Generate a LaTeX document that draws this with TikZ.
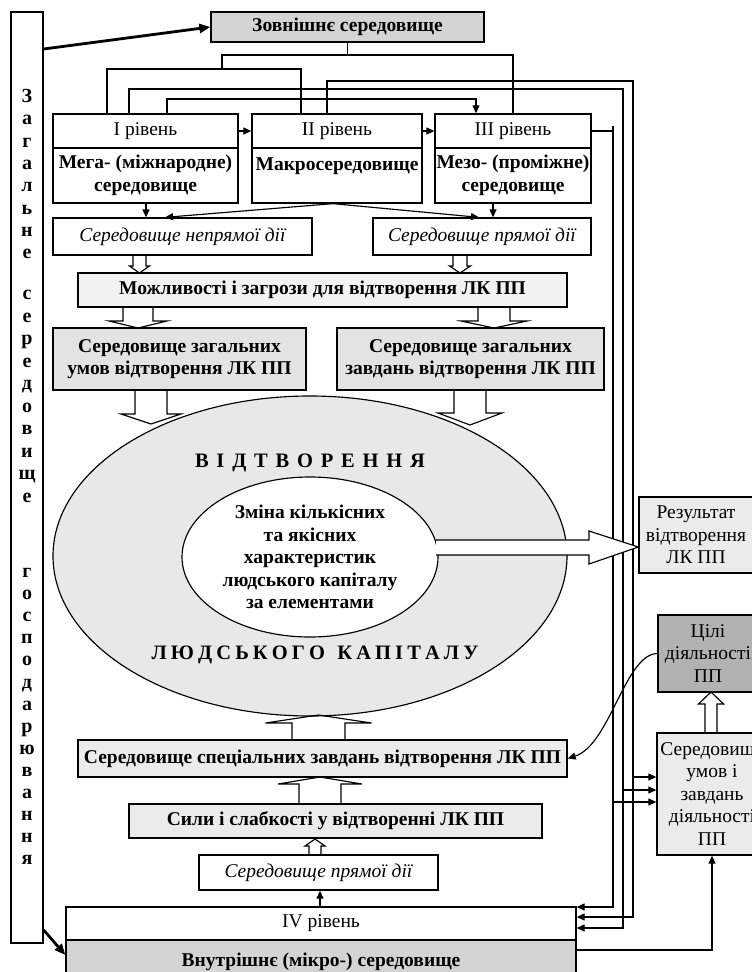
\documentclass[tikz,border=0pt]{standalone}
\usepackage{fontspec}
\setmainfont{Liberation Serif}
\usetikzlibrary{arrows.meta,shapes.geometric}
\definecolor{gA}{gray}{0.83}
\definecolor{gB}{gray}{0.95}
\definecolor{gC}{gray}{0.89}
\definecolor{gD}{gray}{0.91}
\definecolor{gE}{gray}{0.92}
\definecolor{gF}{gray}{0.70}
\newcommand\fs{\fontsize{19.5}{22.5}\selectfont}
\newcommand\lsA{\hspace{7.8pt}}
\newcommand\lsB{\hspace{4.1pt}}
\newcommand{\varrow}[6]{%
  \draw[barrow] (#1-#5,#2) -- (#1-#5,#3) -- (#1-#6,#3) -- (#1,#4) -- (#1+#6,#3) -- (#1+#5,#3) -- (#1+#5,#2);}
\begin{document}
\begin{tikzpicture}[x=1pt,y=-1pt,
  box/.style={draw, line width=1.3pt, inner sep=0pt, align=center, font=\fs},
  bbox/.style={box, font=\fs\bfseries},
  ibox/.style={box, font=\fs\itshape},
  ln/.style={line width=1.15pt},
  arr/.style={line width=1.15pt, -{Triangle[length=8pt,width=7pt]}},
  thk/.style={line width=2.8pt, -{Triangle[length=11pt,width=9pt]}},
  barrow/.style={line width=1.15pt},
  vl/.style={font=\fontsize{20}{22.5}\selectfont\bfseries, anchor=base, inner sep=0pt}]
\useasboundingbox (0,0) rectangle (752,972);
\clip (0,0) rectangle (752,972);

% left vertical box
\node[box, minimum width=32, minimum height=931] (lbox) at (27,477.5) {};
\foreach \c [count=\i from 0] in {З,а,г,а,л,ь,н,е}
  \node[vl] (va\i) at (27,{102.5+22.3*\i}) {\c};
\foreach \c [count=\i from 0] in {с,е,р,е,д,о,в,и,щ,е}
  \node[vl] (vb\i) at (27,{299.5+22.5*\i}) {\c};
\foreach \c [count=\i from 0] in {г,о,с,п,о,д,а,р,ю,в,а,н,н,я}
  \node[vl] (vc\i) at (27,{577.5+22.1*\i}) {\c};

% top
\node[bbox, fill=gA, minimum width=273, minimum height=30] (ext) at (347.5,27) {Зовнішнє середовище};
\node[box, minimum width=185, minimum height=34] (l1a) at (145.5,131) {I рівень};
\node[bbox, minimum width=185, minimum height=55] (l1b) at (145.5,175.5) {Мега- (міжнародне)\\середовище};
\node[box, minimum width=170, minimum height=34] (l2a) at (337,131) {II рівень};
\node[bbox, minimum width=170, minimum height=55] (l2b) at (337,175.5) {Макросередовище\\\mbox{}};
\node[box, minimum width=156, minimum height=34] (l3a) at (513,131) {III рівень};
\node[bbox, minimum width=156, minimum height=55] (l3b) at (513,175.5) {Мезо- (проміжне)\\середовище};

\node[ibox, minimum width=259, minimum height=37] (nepr) at (182.5,236.5) {Середовище непрямої дії};
\node[ibox, minimum width=218, minimum height=37] (pryam) at (482,236.5) {Середовище прямої дії};
\node[bbox, fill=gB, minimum width=489, minimum height=34] (mozh) at (322.5,290) {Можливості і загрози для відтворення ЛК ПП};
\node[bbox, fill=gC, minimum width=253, minimum height=62] (zum) at (179.5,359) {Середовище загальних\\умов відтворення ЛК ПП};
\node[bbox, fill=gC, minimum width=267, minimum height=62] (zzav) at (470.5,359) {Середовище загальних\\завдань відтворення ЛК ПП};

% ellipses
\node[draw, line width=1.15pt, fill=gD, ellipse, inner sep=0pt, minimum width=514, minimum height=320] (ell) at (310,556) {};
\node[font=\fontsize{20.5}{24}\selectfont\bfseries] (vidt) at (310,463) {В\lsA І\lsA Д\lsA Т\lsA В\lsA О\lsA Р\lsA Е\lsA Н\lsA Н\lsA Я};
\node[font=\fontsize{20.5}{24}\selectfont\bfseries] (ludk) at (315,655) {Л\lsB Ю\lsB Д\lsB С\lsB Ь\lsB К\lsB О\lsB Г\lsB О\lsB\lsB\lsB К\lsB А\lsB П\lsB І\lsB Т\lsB А\lsB Л\lsB У};
\node[draw, line width=1.15pt, fill=white, ellipse, inner sep=0pt, minimum width=256, minimum height=160, align=center, font=\fs\bfseries] (inner) at (310,557) {Зміна кількісних\\та якісних\\характеристик\\людського капіталу\\за елементами};

% right boxes
\node[box, fill=gE, minimum width=114, minimum height=76] (rez) at (696,535) {Результат\\відтворення\\ЛК ПП};
\node[box, fill=gF, minimum width=100, minimum height=77] (cili) at (708,653.5) {Цілі\\діяльності\\ПП};
\node[box, fill=gE, minimum width=110, minimum height=122] (umov) at (712,794) {Середовище\\умов і\\завдань\\діяльності\\ПП};

% lower
\node[bbox, fill=gE, minimum width=489, minimum height=37] (spec) at (322.5,758.5) {Середовище спеціальних завдань відтворення ЛК ПП};
\node[bbox, fill=gE, minimum width=413, minimum height=34] (syly) at (335.5,821) {Сили і слабкості у відтворенні ЛК ПП};
\node[ibox, minimum width=239, minimum height=35] (pryam2) at (318.5,872.5) {Середовище прямої дії};
\node[box, minimum width=510, minimum height=33] (l4a) at (321,923.5) {IV рівень};
\node[bbox, fill=gA, minimum width=510, minimum height=44] (l4b) at (321,962) {Внутрішнє (мікро-) середовище};

% top connectors
\draw[ln] (ext.south) -- (347.5,55);
\draw[ln] (222,69) |- (513,55) -- (l3a.north -| 513,0);
\draw[ln] (l1a.north -| 107,0) |- (301,69) -- (l2a.north -| 301,0);
\draw[arr] (l2a.north -| 327,0) |- (633,81) |- (l4a.east |- 0,917);
\draw[arr] (l1a.north -| 129,0) |- (623,89) |- (l4a.east |- 0,928);
\draw[arr] (l1a.north -| 167,0) |- (476,99) -- (l3a.north -| 476,0);
\draw[arr] (l3a.east) -| (613,907) -- (l4a.east |- 0,907);
\draw[ln] (613,126) -- (613,131);
\draw[arr] (633,777) -- (umov.west |- 0,777);
\draw[arr] (623,790) -- (umov.west |- 0,790);
\draw[arr] (613,802) -- (umov.west |- 0,802);
\draw[arr] (l1a.east) -- (l2a.west);
\draw[arr] (l2a.east) -- (l3a.west);
\draw[arr] (l1b.south -| 146,0) -- (nepr.north -| 146,0);
\draw[arr] (l3b.south -| 493,0) -- (pryam.north -| 493,0);
\draw[arr] (l2b.south -| 333,0) -- (nepr.north -| 165,0);
\draw[arr] (l2b.south -| 333,0) -- (pryam.north -| 479,0);

% thick arrows
\draw[thk] (lbox.east |- 0,49) -- (ext.west);
\draw[thk] (lbox.east |- 0,930) -- (l4b.west |- 0,955);

% lower connectors
\draw[arr] (l4a.north -| 320,0) -- (pryam2.south -| 320,0);
\draw[arr] (l4b.east |- 0,950) -| (umov.south);
\draw[arr] (cili.west) .. controls (625,654) and (610,745) .. (spec.east);

% block arrows
\varrow{139.5}{255}{266}{273}{6.5}{10}
\varrow{460}{255}{266}{273}{7}{10.5}
\varrow{138}{307}{321}{328}{15}{29}
\varrow{494}{307}{321}{328}{16}{33}
\varrow{151}{390}{414}{424}{16}{30}
\varrow{470}{390}{413}{425}{16}{32}
\varrow{318.5}{740}{723}{715}{26.5}{53}
\varrow{320}{804}{784}{777}{21}{42}
\varrow{315}{855}{846}{839}{6}{10}
\varrow{711}{733}{704}{692}{6}{12.5}
\draw[line width=1.15pt, fill=white] (436,540) -- (589,540) -- (589,531) -- (rez.west |- 0,547) -- (589,564) -- (589,555) -- (436,555);
\end{tikzpicture}
\end{document}
